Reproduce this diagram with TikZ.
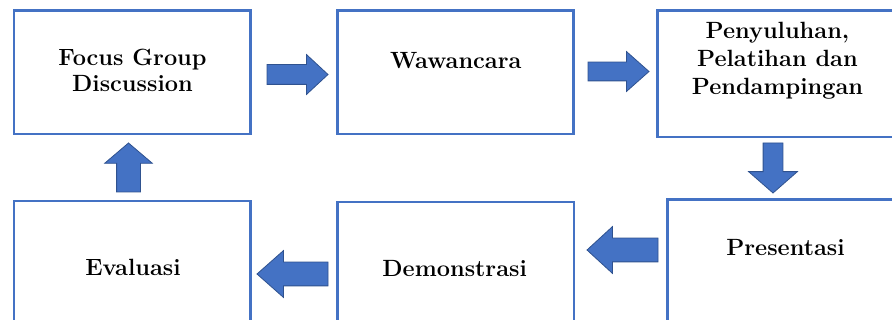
\documentclass[tikz,border=0pt]{standalone}
\usepackage{fontspec}
\usetikzlibrary{shapes.arrows}
\definecolor{boxblue}{RGB}{68,114,196}
\definecolor{arrowfill}{RGB}{68,114,196}
\definecolor{arrowline}{RGB}{47,82,143}
\tikzset{
  stepbox/.style={draw=boxblue, line width=2.5pt, rectangle, inner sep=0pt, outer sep=0pt},
  label22/.style={font=\fontsize{23.5}{26}\selectfont\bfseries, text=black, inner sep=0pt, outer sep=0pt, align=center},
  blockarrow/.style={single arrow, draw=arrowline, fill=arrowfill, line width=0.8pt,
    outer sep=0pt, single arrow head indent=0pt, anchor=tip}
}
\begin{document}
\begin{tikzpicture}[x=1pt,y=-1pt]
\useasboundingbox (0,0) rectangle (892,320);
\clip (0,0) rectangle (892,320);
% boxes
\node[stepbox, minimum width=236.5pt, minimum height=123.5pt] (fgd) at (132.25,72.25) {};
\node[stepbox, minimum width=236pt, minimum height=123.5pt] (waw) at (455.5,72.25) {};
\node[stepbox, minimum width=240pt, minimum height=126.5pt] (pen) at (777.5,73.75) {};
\node[stepbox, minimum width=239.5pt, minimum height=130.5pt] (pre) at (787.25,264.75) {};
\node[stepbox, minimum width=236.5pt, minimum height=128pt] (dem) at (455.75,266) {};
\node[stepbox, minimum width=236.5pt, minimum height=129pt] (eva) at (132.25,265.5) {};
% texts
\node[label22, anchor=base] (tfgd) at (132.5,91.7) {Focus Group\\Discussion};
\node[label22, anchor=base] (twaw) at (455.8,68.3) {Wawancara};
\node[label22, anchor=base, font=\fontsize{23.5}{28}\selectfont\bfseries] (tpen) at (777.5,95) {Penyuluhan,\\Pelatihan dan\\Pendampingan};
\node[label22, anchor=base] (tpre) at (785.5,256) {Presentasi};
\node[label22, anchor=base] (tdem) at (454.7,276.7) {Demonstrasi};
\node[label22, anchor=base] (teva) at (133,275.7) {Evaluasi};
% block arrows
\node[blockarrow, inner sep=9.5pt, minimum height=61pt, single arrow head extend=10pt, single arrow tip angle=85.7] (a1) at (328,74.5) {};
\node[blockarrow, inner sep=9pt, minimum height=61pt, single arrow head extend=10.5pt, single arrow tip angle=83.1] (a2) at (649,71.5) {};
\node[blockarrow, inner sep=9.5pt, shape border rotate=270, minimum height=50pt, single arrow head extend=14.5pt, single arrow tip angle=97.6] (a3) at (773,193) {};
\node[blockarrow, inner sep=11.5pt, shape border rotate=180, minimum height=71pt, single arrow head extend=11.5pt, single arrow tip angle=85.2] (a4) at (587,250) {};
\node[blockarrow, inner sep=11.5pt, shape border rotate=180, minimum height=71pt, single arrow head extend=11.5pt, single arrow tip angle=83.0] (a5) at (257,274) {};
\node[blockarrow, inner sep=11.5pt, shape border rotate=90, minimum height=49pt, single arrow head extend=12pt, single arrow tip angle=99.2] (a6) at (128.5,143) {};
\end{tikzpicture}
\end{document}
